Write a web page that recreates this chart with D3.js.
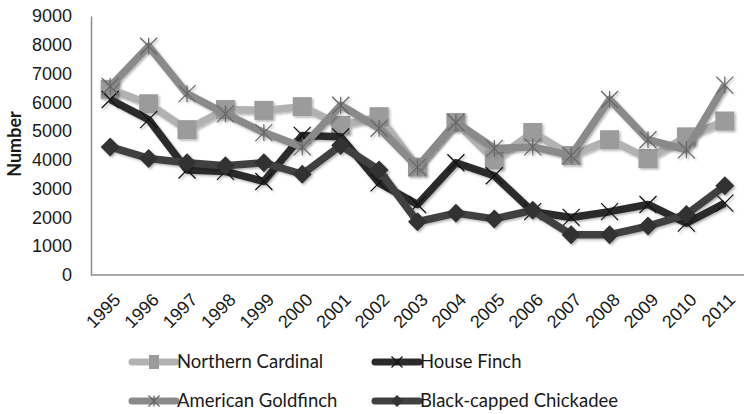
<!DOCTYPE html>
<html>
<head>
<meta charset="UTF-8">
<script src="https://d3js.org/d3.v7.min.js"></script>
<style>
  body { margin: 0; background: #fff; font-family: Lato, "Open Sans", sans-serif; }
  svg text { fill: #1a1a1a; }
</style>
</head>
<body>
<svg id="chart" width="751" height="414"></svg>
<script>
// data
const years = ["1995","1996","1997","1998","1999","2000","2001","2002","2003","2004","2005","2006","2007","2008","2009","2010","2011"];
const northernCardinal = [6450, 5950, 5050, 5750, 5720, 5850, 5200, 5500, 3750, 5300, 4000, 4950, 4150, 4700, 4050, 4800, 5350];
const houseFinch = [6100, 5400, 3650, 3600, 3250, 4850, 4800, 3200, 2450, 3900, 3450, 2200, 2000, 2200, 2450, 1800, 2500];
const americanGoldfinch = [6550, 7950, 6300, 5600, 4950, 4450, 5900, 5100, 3750, 5300, 4400, 4450, 4150, 6100, 4700, 4350, 6600];
const chickadee = [4450, 4050, 3900, 3800, 3900, 3500, 4500, 3650, 1850, 2150, 1950, 2250, 1400, 1400, 1700, 2100, 3100];
const yTicks = [0, 1000, 2000, 3000, 4000, 5000, 6000, 7000, 8000, 9000];

const series = [
  { name: "Northern Cardinal", values: northernCardinal, line: "#b2b2b2", mark: "square", fill: "#9b9b9b" },
  { name: "House Finch", values: houseFinch, line: "#2b2b2b", mark: "x", fill: "#111" },
  { name: "American Goldfinch", values: americanGoldfinch, line: "#8a8a8a", mark: "star", fill: "#666" },
  { name: "Black-capped Chickadee", values: chickadee, line: "#404040", mark: "diamond", fill: "#333" }
];

const svg = d3.select("#chart");
const plotLeft = 91, plotRight = 744, plotTop = 16, plotBottom = 275;

const defs = svg.append("defs");
defs.append("filter").attr("id", "shadow")
  .attr("x", "-20%").attr("y", "-20%").attr("width", "140%").attr("height", "140%")
  .append("feDropShadow")
  .attr("dx", 1.5).attr("dy", 1.5).attr("stdDeviation", 1.2)
  .attr("flood-color", "#000").attr("flood-opacity", 0.3);

const x = d3.scalePoint().domain(years).range([plotLeft, plotRight]).padding(0.5);
const y = d3.scaleLinear().domain([0, 9000]).range([plotBottom, plotTop]);

// axes
svg.append("g")
  .attr("transform", `translate(${plotLeft},0)`)
  .call(d3.axisLeft(y).tickValues(yTicks).tickFormat(d3.format("d")).tickSize(0).tickPadding(19))
  .call(g => g.select(".domain").attr("stroke", "#8c8c8c").attr("stroke-width", 1.5))
  .call(g => g.selectAll("text").style("font-size", "18px").attr("fill", "#1a1a1a"));

const xAxis = svg.append("g")
  .attr("transform", `translate(0,${plotBottom})`)
  .call(d3.axisBottom(x).tickSize(0).tickPadding(0))
  .call(g => g.select(".domain").attr("d", `M${plotLeft},0H${plotRight}`).attr("stroke", "#8c8c8c").attr("stroke-width", 1.5));
xAxis.selectAll("text")
  .style("font-size", "18px")
  .attr("fill", "#1a1a1a")
  .attr("text-anchor", "end")
  .attr("dy", 0)
  .attr("y", 0)
  .attr("transform", "translate(11,26) rotate(-45)");

svg.append("text")
  .attr("transform", `translate(21,144) rotate(-90)`)
  .attr("text-anchor", "middle")
  .style("font-size", "18px")
  .style("font-weight", "bold")
  .text("Number");

function drawMarker(g, type, color, size) {
  const s = size / 2;
  if (type === "square") {
    g.append("rect").attr("x", -s).attr("y", -s).attr("width", size).attr("height", size).attr("fill", color);
  } else if (type === "diamond") {
    g.append("path").attr("d", `M0,${-s}L${s},0L0,${s}L${-s},0Z`).attr("fill", color);
  } else if (type === "x") {
    g.append("path").attr("d", `M${-s},${-s}L${s},${s}M${-s},${s}L${s},${-s}`)
      .attr("stroke", color).attr("stroke-width", 1.2);
  } else if (type === "star") {
    g.append("path").attr("d", `M${-s},${-s}L${s},${s}M${-s},${s}L${s},${-s}M0,${-s}L0,${s}`)
      .attr("stroke", color).attr("stroke-width", 1.2);
  }
}

const line = d3.line().x((d, i) => x(years[i])).y(d => y(d));
const markSize = { square: 19, diamond: 19, x: 17, star: 17 };

series.forEach(s => {
  const g = svg.append("g").attr("filter", "url(#shadow)");
  g.append("path")
    .datum(s.values)
    .attr("fill", "none")
    .attr("stroke", s.line)
    .attr("stroke-width", 7.5)
    .attr("stroke-linejoin", "round")
    .attr("d", line);
  s.values.forEach((v, i) => {
    const m = g.append("g").attr("transform", `translate(${x(years[i])},${y(v)})`);
    drawMarker(m, s.mark, s.fill, markSize[s.mark]);
  });
});

// legend
const legendPos = [[132, 362], [375, 362], [132, 401], [375, 401]];
series.forEach((s, i) => {
  const [lx, ly] = legendPos[i];
  const g = svg.append("g").attr("transform", `translate(${lx},${ly})`);
  g.append("line").attr("x1", 0).attr("x2", 44).attr("y1", 0).attr("y2", 0)
    .attr("stroke", s.line).attr("stroke-width", 7).attr("stroke-linecap", "round");
  const m = g.append("g").attr("transform", "translate(22,0)");
  if (s.mark === "square") {
    m.append("rect").attr("x", -5).attr("y", -7).attr("width", 10).attr("height", 14).attr("fill", s.fill);
  } else {
    drawMarker(m, s.mark, s.fill, s.mark === "diamond" ? 12 : 11);
  }
  g.append("text").attr("x", 45).attr("y", 0).attr("dy", "0.35em")
    .style("font-size", "18.5px")
    .text(s.name);
});
</script>
</body>
</html>
